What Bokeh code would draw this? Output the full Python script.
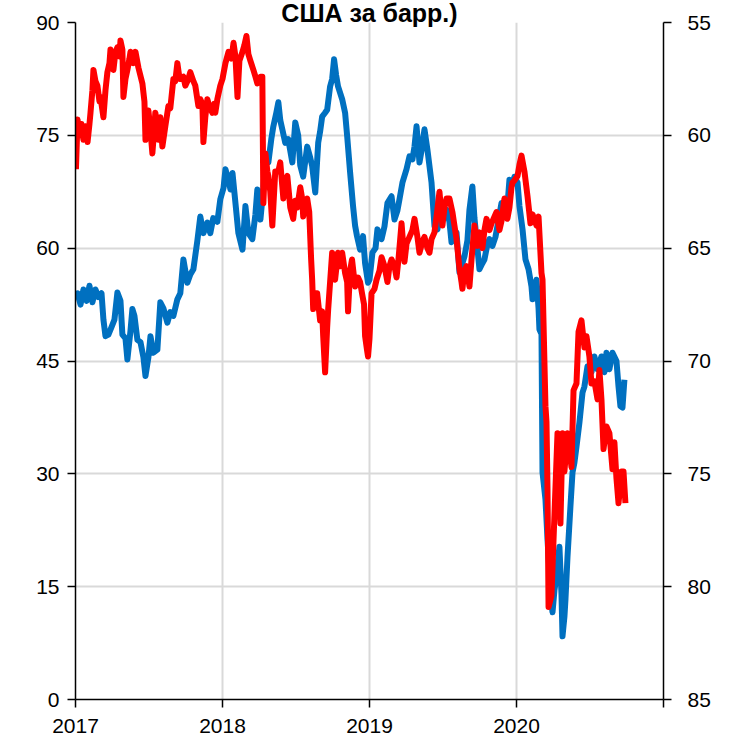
from bokeh.plotting import figure
from bokeh.models import Range1d, LinearAxis, FixedTicker
from bokeh.embed import file_html
from bokeh.resources import INLINE

# Oil price (left axis), decimal years
blue_t = [2017.003, 2017.014, 2017.034, 2017.054, 2017.075, 2017.095, 2017.115, 2017.136, 2017.156, 2017.177,
          2017.190, 2017.204, 2017.224, 2017.245, 2017.265, 2017.285, 2017.306, 2017.319, 2017.340, 2017.353,
          2017.374, 2017.387, 2017.401, 2017.421, 2017.442, 2017.462, 2017.476, 2017.496, 2017.510, 2017.530,
          2017.557, 2017.577, 2017.598, 2017.625, 2017.645, 2017.666, 2017.693, 2017.713, 2017.734, 2017.761,
          2017.781, 2017.802, 2017.829, 2017.849, 2017.870, 2017.897, 2017.917, 2017.937, 2017.965, 2017.985,
          2018.007, 2018.020, 2018.041, 2018.054, 2018.068, 2018.088, 2018.108, 2018.136, 2018.156, 2018.176,
          2018.203, 2018.224, 2018.237, 2018.258, 2018.278, 2018.292, 2018.312, 2018.332, 2018.346, 2018.366,
          2018.380, 2018.393, 2018.407, 2018.427, 2018.447, 2018.475, 2018.495, 2018.515, 2018.529, 2018.549,
          2018.576, 2018.597, 2018.610, 2018.631, 2018.651, 2018.664, 2018.678, 2018.698, 2018.712, 2018.732,
          2018.746, 2018.759, 2018.773, 2018.786, 2018.814, 2018.834, 2018.848, 2018.868, 2018.888, 2018.902,
          2018.915, 2018.936, 2018.956, 2018.970, 2018.990, 2019.000, 2019.020, 2019.041, 2019.054, 2019.082,
          2019.102, 2019.122, 2019.150, 2019.170, 2019.190, 2019.204, 2019.224, 2019.252, 2019.272, 2019.292,
          2019.306, 2019.320, 2019.340, 2019.354, 2019.374, 2019.394, 2019.422, 2019.442, 2019.462, 2019.476,
          2019.496, 2019.524, 2019.544, 2019.558, 2019.578, 2019.592, 2019.612, 2019.632, 2019.646, 2019.666,
          2019.680, 2019.700, 2019.714, 2019.728, 2019.748, 2019.768, 2019.782, 2019.802, 2019.816, 2019.836,
          2019.857, 2019.870, 2019.898, 2019.918, 2019.932, 2019.952, 2019.972, 2019.986, 2020.007, 2020.020,
          2020.041, 2020.061, 2020.082, 2020.102, 2020.109, 2020.122, 2020.136, 2020.150, 2020.156, 2020.170,
          2020.177, 2020.197, 2020.211, 2020.224, 2020.231, 2020.245, 2020.258, 2020.272, 2020.292, 2020.306,
          2020.313, 2020.326, 2020.333, 2020.347, 2020.367, 2020.381, 2020.394, 2020.408, 2020.428, 2020.449,
          2020.462, 2020.483, 2020.510, 2020.530, 2020.551, 2020.578, 2020.598, 2020.612, 2020.632, 2020.653,
          2020.680, 2020.694, 2020.707, 2020.721, 2020.734]
blue_v = [53.5, 54.0, 52.5, 54.5, 53.0, 55.0, 52.8, 54.5, 53.5, 54.0,
          50.5, 48.3, 48.5, 49.5, 50.5, 54.1, 53.0, 48.5, 48.0, 45.2,
          49.0, 51.9, 51.0, 47.8, 47.5, 45.5, 43.0, 45.5, 48.3, 46.1,
          46.5, 52.8, 52.0, 50.1, 51.5, 51.0, 53.2, 54.0, 58.5, 55.4,
          56.5, 57.2, 61.0, 64.2, 62.0, 63.4, 62.0, 64.0, 63.5, 66.5,
          68.0, 70.5, 69.0, 67.8, 70.0, 66.0, 62.0, 59.8, 65.6, 62.0,
          61.2, 64.5, 67.8, 63.8, 68.0, 72.2, 71.4, 74.5, 76.2, 78.0,
          79.4, 77.0, 75.8, 74.0, 74.5, 71.4, 76.7, 75.0, 71.0, 69.5,
          73.5, 72.0, 70.9, 67.4, 74.0, 75.5, 77.5, 78.0, 78.4, 81.5,
          82.5, 85.1, 83.0, 81.5, 79.8, 78.0, 74.9, 70.1, 65.6, 63.0,
          61.6, 59.8, 61.6, 58.0, 55.4, 55.8, 59.4, 60.0, 62.5, 61.2,
          62.9, 66.0, 66.9, 63.8, 65.0, 66.5, 68.7, 70.5, 72.2, 71.8,
          73.5, 76.2, 71.4, 73.0, 75.8, 73.1, 68.7, 62.9, 62.5, 64.0,
          64.7, 65.1, 63.5, 60.8, 61.5, 62.1, 56.8, 58.0, 58.9, 61.0,
          65.1, 68.2, 64.0, 61.2, 57.2, 58.0, 58.5, 60.5, 61.2, 60.3,
          61.5, 62.9, 66.0, 64.5, 64.0, 69.1, 68.5, 69.5, 68.7, 65.6,
          62.5, 58.5, 57.2, 54.9, 53.2, 54.5, 55.8, 52.0, 49.2, 48.6,
          30.2, 26.6, 21.3, 16.9, 14.0, 11.6, 14.5, 16.4, 20.3, 14.0,
          8.4, 11.0, 13.3, 19.0, 25.7, 30.2, 31.5, 33.6, 36.8, 40.8,
          41.6, 44.3, 43.5, 45.6, 43.9, 45.6, 43.5, 46.1, 43.9, 46.1,
          45.0, 41.6, 39.0, 38.8, 42.5]

# Exchange rate (right axis, inverted), decimal years
red_t = [2017.003, 2017.014, 2017.027, 2017.041, 2017.054, 2017.068, 2017.082, 2017.095, 2017.102, 2017.115,
         2017.122, 2017.136, 2017.149, 2017.163, 2017.170, 2017.190, 2017.204, 2017.217, 2017.231, 2017.238,
         2017.251, 2017.258, 2017.272, 2017.285, 2017.299, 2017.306, 2017.319, 2017.326, 2017.340, 2017.353,
         2017.367, 2017.374, 2017.394, 2017.408, 2017.428, 2017.455, 2017.469, 2017.476, 2017.489, 2017.496,
         2017.510, 2017.523, 2017.537, 2017.543, 2017.557, 2017.564, 2017.577, 2017.591, 2017.611, 2017.632,
         2017.645, 2017.666, 2017.679, 2017.693, 2017.706, 2017.713, 2017.734, 2017.747, 2017.768, 2017.781,
         2017.802, 2017.815, 2017.836, 2017.849, 2017.863, 2017.870, 2017.883, 2017.897, 2017.910, 2017.931,
         2017.944, 2017.951, 2017.965, 2017.985, 2018.000, 2018.020, 2018.041, 2018.061, 2018.075, 2018.088,
         2018.102, 2018.115, 2018.136, 2018.149, 2018.163, 2018.176, 2018.190, 2018.210, 2018.224, 2018.237,
         2018.258, 2018.271, 2018.278, 2018.292, 2018.305, 2018.312, 2018.325, 2018.339, 2018.353, 2018.359,
         2018.380, 2018.393, 2018.414, 2018.427, 2018.441, 2018.461, 2018.481, 2018.495, 2018.509, 2018.529,
         2018.542, 2018.549, 2018.563, 2018.576, 2018.590, 2018.603, 2018.610, 2018.617, 2018.631, 2018.644,
         2018.664, 2018.678, 2018.685, 2018.698, 2018.712, 2018.719, 2018.732, 2018.746, 2018.766, 2018.786,
         2018.800, 2018.814, 2018.834, 2018.848, 2018.854, 2018.868, 2018.881, 2018.902, 2018.922, 2018.936,
         2018.949, 2018.963, 2018.970, 2018.983, 2018.990, 2019.000, 2019.014, 2019.034, 2019.048, 2019.068,
         2019.082, 2019.102, 2019.122, 2019.136, 2019.150, 2019.170, 2019.184, 2019.197, 2019.218, 2019.238,
         2019.252, 2019.272, 2019.292, 2019.306, 2019.326, 2019.340, 2019.360, 2019.374, 2019.394, 2019.408,
         2019.422, 2019.442, 2019.456, 2019.476, 2019.496, 2019.510, 2019.524, 2019.544, 2019.564, 2019.578,
         2019.592, 2019.612, 2019.626, 2019.632, 2019.646, 2019.660, 2019.680, 2019.694, 2019.714, 2019.734,
         2019.748, 2019.768, 2019.782, 2019.796, 2019.816, 2019.830, 2019.850, 2019.864, 2019.884, 2019.898,
         2019.918, 2019.932, 2019.938, 2019.952, 2019.966, 2019.972, 2019.986, 2020.007, 2020.020, 2020.034,
         2020.054, 2020.075, 2020.095, 2020.109, 2020.136, 2020.150, 2020.170, 2020.177, 2020.197, 2020.204,
         2020.211, 2020.218, 2020.238, 2020.252, 2020.272, 2020.279, 2020.299, 2020.313, 2020.326, 2020.347,
         2020.374, 2020.388, 2020.408, 2020.422, 2020.442, 2020.462, 2020.476, 2020.496, 2020.510, 2020.530,
         2020.551, 2020.564, 2020.578, 2020.592, 2020.612, 2020.632, 2020.653, 2020.666, 2020.680, 2020.694,
         2020.714, 2020.728, 2020.741]
red_v = [61.5, 59.3, 60.0, 59.5, 60.2, 59.6, 60.3, 59.5, 59.0, 58.0,
         57.1, 57.6, 57.8, 58.5, 58.3, 59.2, 58.0, 57.2, 56.8, 56.2,
         56.5, 57.1, 56.3, 56.1, 56.5, 55.8, 56.2, 58.3, 57.5, 57.1,
         56.6, 56.3, 56.8, 56.3, 57.0, 57.7, 58.5, 60.2, 59.3, 58.9,
         59.8, 60.8, 59.6, 59.0, 59.6, 60.2, 59.2, 60.5, 59.6, 58.7,
         58.8, 57.5, 57.6, 56.8, 57.4, 57.5, 57.4, 57.8, 57.5, 57.2,
         57.6, 57.8, 58.7, 58.4, 58.6, 60.3, 59.2, 58.4, 58.7, 59.0,
         58.6, 59.0, 58.4, 57.8, 57.5, 56.8, 56.3, 56.6, 55.9, 56.5,
         58.3, 56.7, 56.3, 56.0, 55.6, 56.4, 56.7, 57.1, 57.4, 57.7,
         57.4, 57.4, 63.0, 60.8, 61.6, 61.8, 62.5, 64.0, 62.3, 61.6,
         61.6, 61.2, 62.8, 62.0, 61.8, 63.2, 63.7, 62.9, 63.2, 62.3,
         62.8, 63.6, 63.0, 62.8, 63.4, 65.5, 66.4, 67.7, 67.0, 67.0,
         68.2, 67.8, 68.9, 70.5, 68.5, 67.7, 66.5, 65.2, 66.4, 65.2,
         65.8, 65.2, 66.1, 66.5, 67.8, 66.0, 65.5, 66.7, 66.3, 66.5,
         67.0, 67.5, 68.9, 69.5, 69.8, 69.0, 67.0, 66.8, 66.4, 66.0,
         65.4, 65.8, 66.5, 65.8, 65.5, 65.8, 66.3, 65.5, 63.9, 65.6,
         64.8, 64.5, 64.2, 63.7, 64.5, 65.2, 64.7, 64.5, 65.0, 65.2,
         64.6, 64.3, 63.6, 62.5, 64.0, 63.2, 62.8, 62.8, 63.4, 64.0,
         64.6, 65.9, 66.5, 66.8, 66.0, 65.8, 66.7, 65.5, 64.0, 64.9,
         64.3, 65.0, 64.2, 63.7, 64.2, 63.9, 63.6, 63.4, 64.2, 63.8,
         62.8, 63.4, 63.7, 63.2, 62.3, 62.1, 62.0, 61.8, 61.3, 60.9,
         61.6, 62.7, 63.9, 63.5, 64.0, 63.6, 66.1, 66.4, 72.0, 72.7,
         75.7, 80.9, 80.4, 77.9, 74.4, 73.2, 77.2, 73.2, 74.9, 73.2,
         74.7, 71.3, 71.0, 68.7, 68.2, 69.4, 68.9, 69.8, 71.0, 70.9,
         71.7, 70.4, 71.7, 73.9, 72.9, 73.2, 74.8, 73.6, 75.2, 76.3,
         74.9, 74.9, 76.3]

year_ticks = [2017, 2018, 2019, 2020, 2021]
year_labels = {2021: ""}
left_ticks = [0, 15, 30, 45, 60, 75, 90]
right_ticks = [55, 60, 65, 70, 75, 80, 85]
title_text = "США за барр.)"

FONT = "Liberation Sans"

p = figure(frame_width=588, frame_height=677, output_backend="svg", toolbar_location=None,
           x_range=Range1d(2017, 2021), y_range=Range1d(0, 90),
           min_border_left=75, min_border_right=70, min_border_top=0, min_border_bottom=42,
           background_fill_color="white", border_fill_color="white",
           title=title_text)
p.outline_line_color = None

p.title.align = "center"
p.title.text_font = FONT
p.title.text_font_style = "bold"
p.title.text_font_size = "25px"
p.title.standoff = -8
p.title.offset = 0
p.title.text_color = "black"

p.extra_y_ranges = {"rub": Range1d(85, 55)}

for g in (p.xgrid, p.ygrid):
    g.grid_line_color = "#d9d9d9"
    g.grid_line_width = 2
p.xgrid.ticker = FixedTicker(ticks=year_ticks)
p.ygrid.ticker = FixedTicker(ticks=left_ticks)

def style_axis(ax):
    ax.axis_line_color = "black"
    ax.axis_line_width = 1.5
    ax.major_tick_line_color = "black"
    ax.major_tick_line_width = 1.5
    ax.major_tick_in = 0
    ax.major_tick_out = 8
    ax.minor_tick_line_color = None
    ax.major_label_text_font = FONT
    ax.major_label_text_font_size = "21px"
    ax.major_label_text_color = "black"

p.xaxis.ticker = FixedTicker(ticks=year_ticks)
p.xaxis.major_label_overrides = year_labels
p.xaxis.major_label_standoff = 11
p.yaxis.ticker = FixedTicker(ticks=left_ticks)
p.yaxis.major_label_standoff = 8
style_axis(p.xaxis[0])
style_axis(p.yaxis[0])

right = LinearAxis(y_range_name="rub", ticker=FixedTicker(ticks=right_ticks))
style_axis(right)
right.major_label_standoff = 16
p.add_layout(right, "right")

p.line(blue_t, blue_v, line_width=6, color="#0070C0", line_join="round")
p.line(red_t, red_v, y_range_name="rub", line_width=6, color="#FF0000", line_join="round")

open("out.html", "w").write(file_html(p, INLINE))
